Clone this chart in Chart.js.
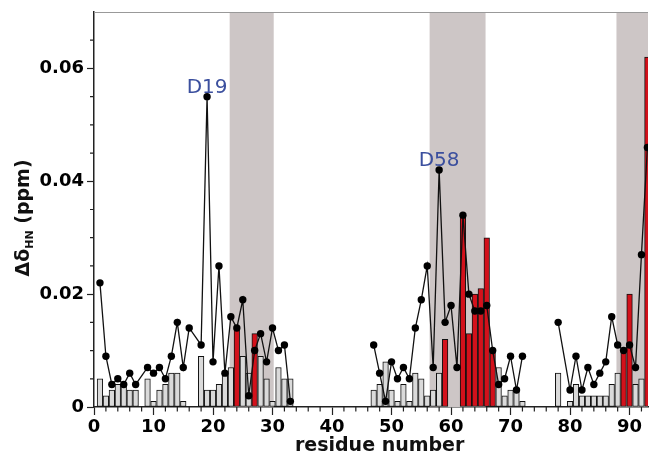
<!DOCTYPE html>
<html>
<head>
<meta charset="utf-8">
<script src="https://cdn.jsdelivr.net/npm/chart.js@4.4.0/dist/chart.umd.min.js"></script>
<style>
  html, body { margin: 0; padding: 0; background: #fff; }
  #wrap { width: 652px; height: 462px; position: relative; }
</style>
</head>
<body>
<div id="wrap"><canvas id="shifts"></canvas></div>
<script>
// residue numbers
const residues = [
  1, 2, 3, 4, 5, 6, 7, 8, 9, 10,
  11, 12, 13, 14, 15, 16, 17, 18, 19, 20,
  21, 22, 23, 24, 25, 26, 27, 28, 29, 30,
  31, 32, 33, 34, 35, 36, 37, 38, 39, 40,
  41, 42, 43, 44, 45, 46, 47, 48, 49, 50,
  51, 52, 53, 54, 55, 56, 57, 58, 59, 60,
  61, 62, 63, 64, 65, 66, 67, 68, 69, 70,
  71, 72, 73, 74, 75, 76, 77, 78, 79, 80,
  81, 82, 83, 84, 85, 86, 87, 88, 89, 90,
  91, 92, 93
];

// bar heights (ppm), null = no data
const barValues = [
  0.005, 0.002, 0.003, 0.004, 0.004, 0.003, 0.003, null, 0.005, 0.001,
  0.003, 0.004, 0.006, 0.006, 0.001, null, null, 0.009, 0.003, 0.003,
  0.004, 0.006, 0.007, 0.014, 0.009, 0.006, 0.013, 0.009, 0.005, 0.001,
  0.007, 0.005, 0.005, null, null, null, null, null, null, null,
  null, null, null, null, null, null, 0.003, 0.004, 0.008, 0.003,
  0.001, 0.004, 0.001, 0.006, 0.005, 0.002, 0.003, 0.006, 0.012, null,
  null, 0.034, 0.013, 0.020, 0.021, 0.030, 0.010, 0.007, 0.002, 0.003,
  0.003, 0.001, null, null, null, null, null, 0.006, null, 0.001,
  0.004, 0.002, 0.002, 0.002, 0.002, 0.002, 0.004, 0.006, 0.010, 0.020,
  0.004, 0.005, 0.062
];

// residues whose bar is red
const redResidues = [24, 27, 59, 62, 63, 64, 65, 66, 67, 89, 90, 93];

// line with dots (ppm), null = no data
const lineValues = [
  0.022, 0.009, 0.004, 0.005, 0.004, 0.006, 0.004, null, 0.007, 0.006,
  0.007, 0.005, 0.009, 0.015, 0.007, 0.014, null, 0.011, 0.055, 0.008,
  0.025, 0.006, 0.016, 0.014, 0.019, 0.002, 0.010, 0.013, 0.008, 0.014,
  0.010, 0.011, 0.001, null, null, null, null, null, null, null,
  null, null, null, null, null, null, 0.011, 0.006, 0.001, 0.008,
  0.005, 0.007, 0.005, 0.014, 0.019, 0.025, 0.007, 0.042, 0.015, 0.018,
  0.007, 0.034, 0.020, 0.017, 0.017, 0.018, 0.010, 0.004, 0.005, 0.009,
  0.003, 0.009, null, null, null, null, null, 0.015, null, 0.003,
  0.009, 0.003, 0.007, 0.004, 0.006, 0.008, 0.016, 0.011, 0.010, 0.011,
  0.007, 0.027, 0.046
];

// shaded residue ranges
const shadedRanges = [[22.8, 30.2], [56.4, 65.8], [87.8, 93.1]];

// labelled peaks
const peakLabels = ['D19', 'D58'];
const peakResidues = [19, 58];

// axis ticks
const xTickValues = [0, 10, 20, 30, 40, 50, 60, 70, 80, 90];
const xTickLabels = ['0', '10', '20', '30', '40', '50', '60', '70', '80', '90'];
const xMinorTicks = [2, 4, 6, 8, 12, 14, 16, 18, 22, 24, 26, 28, 32, 34, 36, 38, 42, 44, 46, 48,
  52, 54, 56, 58, 62, 64, 66, 68, 72, 74, 76, 78, 82, 84, 86, 88, 92];
const yTickValues = [0, 0.02, 0.04, 0.06];
const yTickLabels = ['0', '0.02', '0.04', '0.06'];
const yMinorTicks = [0.005, 0.01, 0.015, 0.025, 0.03, 0.035, 0.045, 0.05, 0.055, 0.065];

const RED = '#d3111b';
const GRAY = '#dadada';
const SHADE = '#cdc6c6';
const LABEL_BLUE = '#3b4f9e';
const FONT = '"DejaVu Sans", sans-serif';

const barPoints = [];
residues.forEach((r, i) => {
    if (barValues[i] != null) barPoints.push({ x: r, y: barValues[i] });
});
const linePoints = [];
residues.forEach((r, i) => {
    if (lineValues[i] != null) linePoints.push({ x: r, y: lineValues[i] });
});

// shading behind the bars
const shadePlugin = {
    id: 'shade',
    beforeDatasetsDraw(chart) {
        const { ctx, chartArea, scales } = chart;
        ctx.save();
        ctx.beginPath();
        ctx.rect(chartArea.left, chartArea.top, chartArea.right - chartArea.left, chartArea.bottom - chartArea.top);
        ctx.clip();
        ctx.fillStyle = SHADE;
        shadedRanges.forEach(([a, b]) => {
            const x0 = scales.x.getPixelForValue(a);
            const x1 = scales.x.getPixelForValue(b);
            ctx.fillRect(x0, chartArea.top, x1 - x0, chartArea.bottom - chartArea.top);
        });
        ctx.restore();
    }
};

// minor ticks, top line, peak labels, axis titles
const decorPlugin = {
    id: 'decor',
    afterDraw(chart) {
        const { ctx, chartArea, scales } = chart;
        const xs = scales.x, ys = scales.y;
        ctx.save();

        ctx.strokeStyle = '#999';
        ctx.lineWidth = 1;
        ctx.beginPath();
        ctx.moveTo(chartArea.left, chartArea.top + 0.5);
        ctx.lineTo(chartArea.right, chartArea.top + 0.5);
        ctx.stroke();

        ctx.strokeStyle = '#222';
        ctx.lineWidth = 1.2;
        ctx.beginPath();
        yMinorTicks.forEach(v => {
            const y = ys.getPixelForValue(v);
            ctx.moveTo(chartArea.left - 4, y);
            ctx.lineTo(chartArea.left, y);
        });
        xMinorTicks.forEach(v => {
            const x = xs.getPixelForValue(v);
            ctx.moveTo(x, chartArea.bottom);
            ctx.lineTo(x, chartArea.bottom + 4.5);
        });
        ctx.stroke();

        ctx.fillStyle = LABEL_BLUE;
        ctx.font = '20px ' + FONT;
        ctx.textAlign = 'center';
        ctx.textBaseline = 'alphabetic';
        peakLabels.forEach((t, i) => {
            const r = peakResidues[i];
            const v = lineValues[residues.indexOf(r)];
            ctx.fillText(t, xs.getPixelForValue(r), ys.getPixelForValue(v) - 4);
        });

        // x title, centred on the full (uncropped) residue axis
        ctx.fillStyle = '#111';
        ctx.font = 'bold 19px ' + FONT;
        ctx.textBaseline = 'middle';
        ctx.fillText('residue number', xs.getPixelForValue(48), 446);

        // y title with subscript
        ctx.translate(22, 218);
        ctx.rotate(-Math.PI / 2);
        const main = 'bold 19px ' + FONT;
        const sub = 'bold 11px ' + FONT;
        ctx.font = main;
        const w1 = ctx.measureText('\u0394\u03b4').width;
        const w3 = ctx.measureText(' (ppm)').width;
        ctx.font = sub;
        const w2 = ctx.measureText('HN').width;
        let x = -(w1 + w2 + w3) / 2;
        ctx.textAlign = 'left';
        ctx.textBaseline = 'alphabetic';
        ctx.font = main;
        ctx.fillText('\u0394\u03b4', x, 7);
        x += w1;
        ctx.font = sub;
        ctx.fillText('HN', x, 11);
        x += w2;
        ctx.font = main;
        ctx.fillText(' (ppm)', x, 7);
        ctx.restore();
    }
};

new Chart(document.getElementById('shifts'), {
    type: 'bar',
    data: {
        datasets: [
            {
                type: 'line',
                data: linePoints,
                borderColor: '#111',
                borderWidth: 1.3,
                pointRadius: 3.7,
                pointBackgroundColor: '#000',
                pointBorderColor: '#000',
                pointBorderWidth: 0,
                spanGaps: 2.5,
                tension: 0,
                order: 0
            },
            {
                type: 'bar',
                data: barPoints,
                backgroundColor: c => redResidues.includes(c.raw && c.raw.x) ? RED : GRAY,
                borderColor: '#111',
                borderWidth: 1,
                borderSkipped: false,
                barThickness: 5.6,
                order: 1
            }
        ]
    },
    options: {
        responsive: true,
        maintainAspectRatio: false,
        animation: false,
        layout: { padding: { top: 12, right: 0, left: 0, bottom: 0 } },
        plugins: {
            legend: { display: false },
            tooltip: { enabled: false }
        },
        scales: {
            x: {
                type: 'linear',
                min: 0,
                max: 93.1,
                offset: false,
                afterBuildTicks: s => { s.ticks = xTickValues.map(v => ({ value: v })); },
                afterFit: s => { s.height = 55; s.paddingLeft = 0; s.paddingRight = 0; },
                ticks: {
                    callback: (v) => xTickLabels[xTickValues.indexOf(v)],
                    font: { family: FONT, size: 18, weight: 'bold' },
                    color: '#000',
                    padding: 2,
                    maxRotation: 0,
                    autoSkip: false
                },
                grid: { offset: false, drawOnChartArea: false, tickLength: 8, tickColor: '#222', tickWidth: 1.2 },
                border: { color: '#222', width: 1.5 }
            },
            y: {
                min: 0,
                max: 0.07,
                afterBuildTicks: s => { s.ticks = yTickValues.map(v => ({ value: v })); },
                afterFit: s => { s.width = 94; s.paddingTop = 0; s.paddingBottom = 0; },
                ticks: {
                    callback: (v) => yTickLabels[yTickValues.indexOf(v)],
                    font: { family: FONT, size: 18, weight: 'bold' },
                    color: '#000',
                    padding: 3
                },
                grid: { drawOnChartArea: false, tickLength: 7, tickColor: '#222', tickWidth: 1.2 },
                border: { color: '#222', width: 1.5 }
            }
        }
    },
    plugins: [shadePlugin, decorPlugin]
});
</script>
</body>
</html>
